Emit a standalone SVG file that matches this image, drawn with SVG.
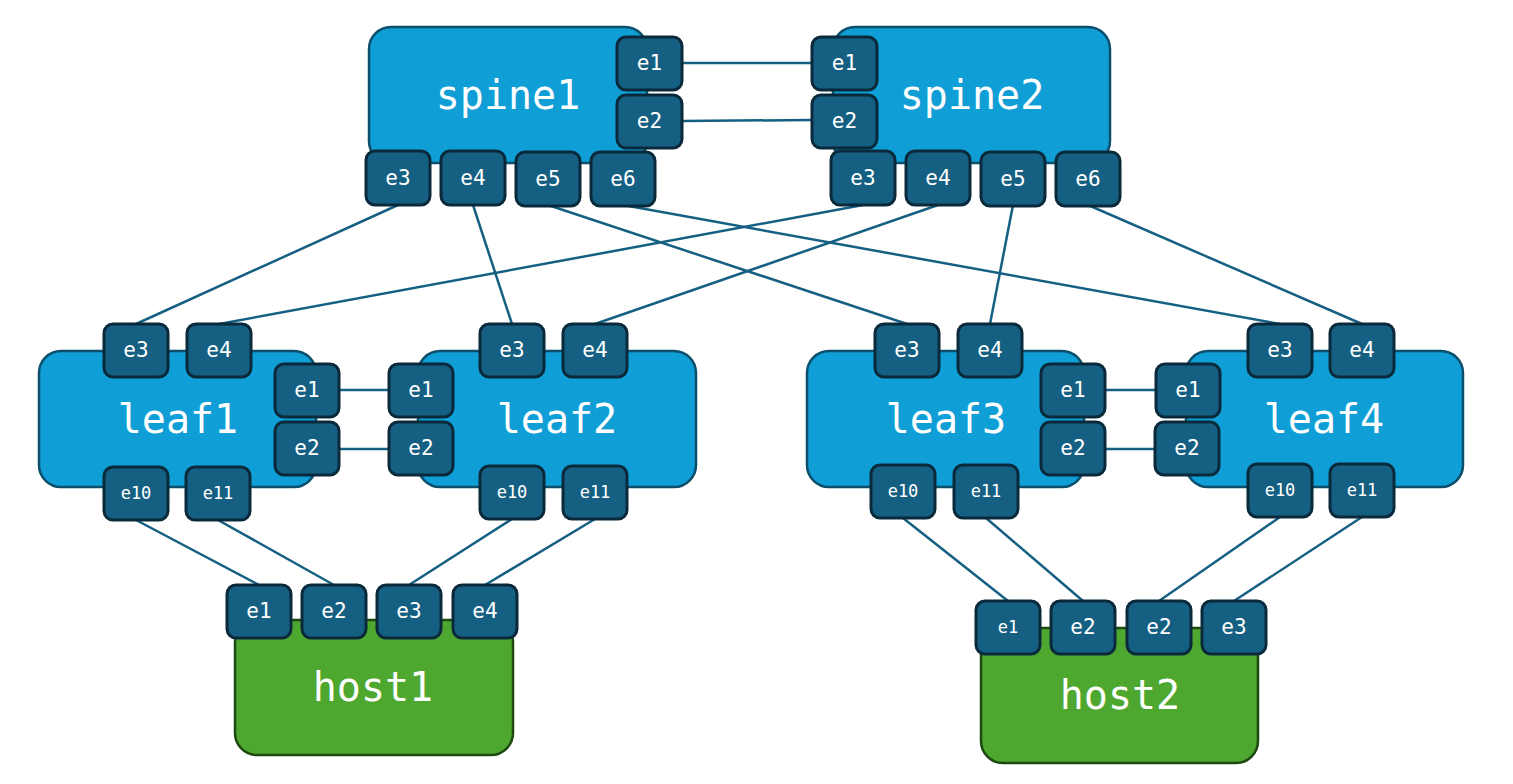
<svg xmlns="http://www.w3.org/2000/svg" width="1513" height="784" viewBox="0 0 1513 784">
<style>
.node{fill:#0f9ed5;stroke:#0b4f6c;stroke-width:2.5}
.host{fill:#4ea72e;stroke:#1e4a12;stroke-width:2.5}
.port{fill:#156082;stroke:#0a2a3c;stroke-width:3}
.nl{font-family:"DejaVu Sans Mono",monospace;font-size:40px;fill:#ffffff;text-anchor:middle;dominant-baseline:central}
.pl{font-family:"DejaVu Sans Mono",monospace;font-size:21px;fill:#ffffff;text-anchor:middle;dominant-baseline:central}
.ps{font-size:17px}
.conn line{stroke:#156082;stroke-width:2.5}
</style>
<rect width="1513" height="784" fill="#ffffff"/>
<g id="connectors" class="conn">
<line x1="682" y1="63" x2="812" y2="63"/>
<line x1="682" y1="121" x2="812" y2="120"/>
<line x1="398" y1="205" x2="136" y2="324"/>
<line x1="473" y1="205" x2="512" y2="324"/>
<line x1="548" y1="205" x2="907" y2="324"/>
<line x1="623" y1="205" x2="1280" y2="324"/>
<line x1="863" y1="205" x2="219" y2="324"/>
<line x1="938" y1="205" x2="595" y2="324"/>
<line x1="1013" y1="205" x2="990" y2="324"/>
<line x1="1088" y1="205" x2="1362" y2="324"/>
<line x1="339" y1="390" x2="389" y2="390"/>
<line x1="339" y1="449" x2="389" y2="449"/>
<line x1="1105" y1="390" x2="1156" y2="390"/>
<line x1="1105" y1="449" x2="1155" y2="449"/>
<line x1="136" y1="520" x2="259" y2="585"/>
<line x1="218" y1="520" x2="334" y2="585"/>
<line x1="512" y1="519" x2="409" y2="585"/>
<line x1="595" y1="519" x2="485" y2="585"/>
<line x1="903" y1="518" x2="1008" y2="601"/>
<line x1="986" y1="518" x2="1083" y2="601"/>
<line x1="1280" y1="517" x2="1159" y2="601"/>
<line x1="1362" y1="517" x2="1234" y2="601"/>
</g>
<g id="spine1">
<rect class="node" x="369" y="27" width="278" height="136" rx="22"/>
<text class="nl" x="508" y="95">spine1</text>
<rect class="port" x="617" y="37" width="65" height="53" rx="9"/><text class="pl" x="649.5" y="63">e1</text>
<rect class="port" x="617" y="95" width="65" height="53" rx="9"/><text class="pl" x="649.5" y="121">e2</text>
<rect class="port" x="366" y="151" width="64" height="54" rx="9"/><text class="pl" x="398" y="178">e3</text>
<rect class="port" x="441" y="151" width="64" height="54" rx="9"/><text class="pl" x="473" y="178">e4</text>
<rect class="port" x="516" y="152" width="64" height="54" rx="9"/><text class="pl" x="548" y="179">e5</text>
<rect class="port" x="591" y="152" width="64" height="54" rx="9"/><text class="pl" x="623" y="179">e6</text>
</g>
<g id="spine2">
<rect class="node" x="833" y="27" width="277" height="136" rx="22"/>
<text class="nl" x="972" y="95">spine2</text>
<rect class="port" x="812" y="37" width="65" height="53" rx="9"/><text class="pl" x="844.5" y="63">e1</text>
<rect class="port" x="812" y="95" width="65" height="53" rx="9"/><text class="pl" x="844.5" y="121">e2</text>
<rect class="port" x="831" y="151" width="64" height="54" rx="9"/><text class="pl" x="863" y="178">e3</text>
<rect class="port" x="906" y="151" width="64" height="54" rx="9"/><text class="pl" x="938" y="178">e4</text>
<rect class="port" x="981" y="152" width="64" height="54" rx="9"/><text class="pl" x="1013" y="179">e5</text>
<rect class="port" x="1056" y="152" width="64" height="54" rx="9"/><text class="pl" x="1088" y="179">e6</text>
</g>
<g id="leaf1">
<rect class="node" x="39" y="351" width="277" height="136" rx="22"/>
<text class="nl" x="178" y="419">leaf1</text>
<rect class="port" x="104" y="324" width="64" height="53" rx="9"/><text class="pl" x="136" y="350">e3</text>
<rect class="port" x="187" y="324" width="64" height="53" rx="9"/><text class="pl" x="219" y="350">e4</text>
<rect class="port" x="275" y="364" width="64" height="53" rx="9"/><text class="pl" x="307" y="390">e1</text>
<rect class="port" x="275" y="422" width="64" height="53" rx="9"/><text class="pl" x="307" y="448">e2</text>
<rect class="port" x="104" y="467" width="64" height="53" rx="9"/><text class="pl ps" x="136" y="493">e10</text>
<rect class="port" x="186" y="467" width="64" height="53" rx="9"/><text class="pl ps" x="218" y="493">e11</text>
</g>
<g id="leaf2">
<rect class="node" x="418" y="351" width="278" height="136" rx="22"/>
<text class="nl" x="557" y="419">leaf2</text>
<rect class="port" x="389" y="364" width="64" height="53" rx="9"/><text class="pl" x="421" y="390">e1</text>
<rect class="port" x="389" y="422" width="64" height="53" rx="9"/><text class="pl" x="421" y="448">e2</text>
<rect class="port" x="480" y="324" width="64" height="53" rx="9"/><text class="pl" x="512" y="350">e3</text>
<rect class="port" x="563" y="324" width="64" height="53" rx="9"/><text class="pl" x="595" y="350">e4</text>
<rect class="port" x="480" y="466" width="64" height="53" rx="9"/><text class="pl ps" x="512" y="492">e10</text>
<rect class="port" x="563" y="466" width="64" height="53" rx="9"/><text class="pl ps" x="595" y="492">e11</text>
</g>
<g id="leaf3">
<rect class="node" x="807" y="351" width="277" height="136" rx="22"/>
<text class="nl" x="946" y="419">leaf3</text>
<rect class="port" x="875" y="324" width="64" height="53" rx="9"/><text class="pl" x="907" y="350">e3</text>
<rect class="port" x="958" y="324" width="64" height="53" rx="9"/><text class="pl" x="990" y="350">e4</text>
<rect class="port" x="1041" y="364" width="64" height="53" rx="9"/><text class="pl" x="1073" y="390">e1</text>
<rect class="port" x="1041" y="422" width="64" height="53" rx="9"/><text class="pl" x="1073" y="448">e2</text>
<rect class="port" x="871" y="465" width="64" height="53" rx="9"/><text class="pl ps" x="903" y="491">e10</text>
<rect class="port" x="954" y="465" width="64" height="53" rx="9"/><text class="pl ps" x="986" y="491">e11</text>
</g>
<g id="leaf4">
<rect class="node" x="1186" y="351" width="277" height="136" rx="22"/>
<text class="nl" x="1324" y="419">leaf4</text>
<rect class="port" x="1156" y="364" width="64" height="53" rx="9"/><text class="pl" x="1188" y="390">e1</text>
<rect class="port" x="1155" y="422" width="64" height="53" rx="9"/><text class="pl" x="1187" y="448">e2</text>
<rect class="port" x="1248" y="324" width="64" height="53" rx="9"/><text class="pl" x="1280" y="350">e3</text>
<rect class="port" x="1330" y="324" width="64" height="53" rx="9"/><text class="pl" x="1362" y="350">e4</text>
<rect class="port" x="1248" y="464" width="64" height="53" rx="9"/><text class="pl ps" x="1280" y="490">e10</text>
<rect class="port" x="1330" y="464" width="64" height="53" rx="9"/><text class="pl ps" x="1362" y="490">e11</text>
</g>
<g id="host1">
<rect class="host" x="235" y="620" width="278" height="135" rx="22"/>
<text class="nl" x="373" y="687">host1</text>
<rect class="port" x="227" y="585" width="64" height="53" rx="9"/><text class="pl" x="259" y="611">e1</text>
<rect class="port" x="302" y="585" width="64" height="53" rx="9"/><text class="pl" x="334" y="611">e2</text>
<rect class="port" x="377" y="585" width="64" height="53" rx="9"/><text class="pl" x="409" y="611">e3</text>
<rect class="port" x="453" y="585" width="64" height="53" rx="9"/><text class="pl" x="485" y="611">e4</text>
</g>
<g id="host2">
<rect class="host" x="981" y="628" width="277" height="135" rx="22"/>
<text class="nl" x="1120" y="695">host2</text>
<rect class="port" x="976" y="601" width="64" height="53" rx="9"/><text class="pl ps" x="1008" y="627">e1</text>
<rect class="port" x="1051" y="601" width="64" height="53" rx="9"/><text class="pl" x="1083" y="627">e2</text>
<rect class="port" x="1127" y="601" width="64" height="53" rx="9"/><text class="pl" x="1159" y="627">e2</text>
<rect class="port" x="1202" y="601" width="64" height="53" rx="9"/><text class="pl" x="1234" y="627">e3</text>
</g>
</svg>
